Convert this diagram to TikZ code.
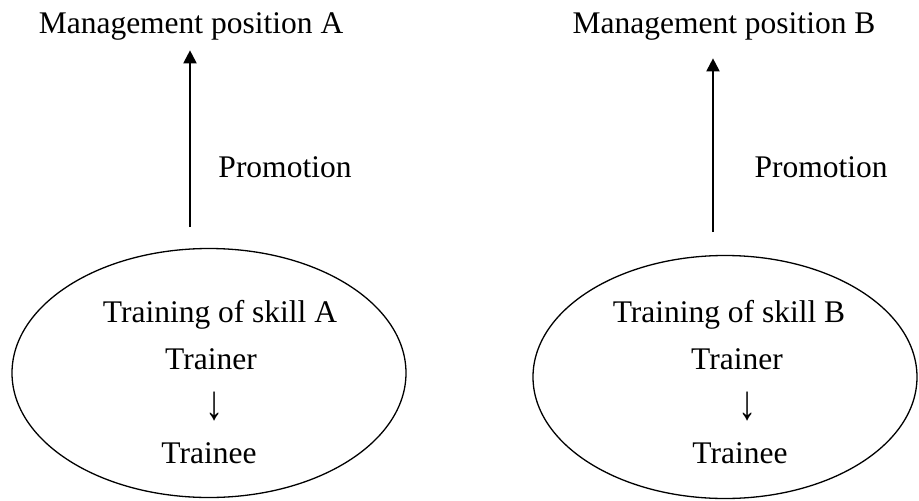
\documentclass[tikz,border=0pt]{standalone}
\usepackage{fontspec}
\setmainfont{Liberation Serif}
\usetikzlibrary{shapes.geometric,arrows.meta}
\begin{document}
\begin{tikzpicture}[x=1pt, y=-1pt,
  every node/.style={font=\fontsize{31.5}{36}\selectfont, anchor=base},
  promo/.style={draw=black, line width=2pt, -{Triangle[width=13pt,length=13pt]}},
  skill/.style={draw=black, ellipse, line width=1.3pt, anchor=center, inner sep=0pt}]
\useasboundingbox (0,0) rectangle (919,501);
% left side
\node[skill, minimum width=394pt, minimum height=249pt] (skillA) at (209,373) {};
\node (mgmtA) at (191,33) {Management position A};
\node (promA) at (285,177) {Promotion};
\node (trainA) at (220,322) {Training of skill A};
\node (trainerA) at (211,369) {Trainer};
\node (downA) at (215,419) {\scalebox{1.15}[1.55]{↓}};
\node (traineeA) at (209,463) {Trainee};
\coordinate (baseA) at (190,227);
\draw[promo, shorten >=7pt] (baseA) -- (baseA |- mgmtA.south);
% right side
\node[skill, minimum width=384pt, minimum height=243pt] (skillB) at (725,377) {};
\node (mgmtB) at (724,33) {Management position B};
\node (promB) at (821,177) {Promotion};
\node (trainB) at (729,322) {Training of skill B};
\node (trainerB) at (737,369) {Trainer};
\node (downB) at (748,419) {\scalebox{1.15}[1.55]{↓}};
\node (traineeB) at (740,463) {Trainee};
\coordinate (baseB) at (713,232);
\draw[promo, shorten >=15pt] (baseB) -- (baseB |- mgmtB.south);
\end{tikzpicture}
\end{document}
